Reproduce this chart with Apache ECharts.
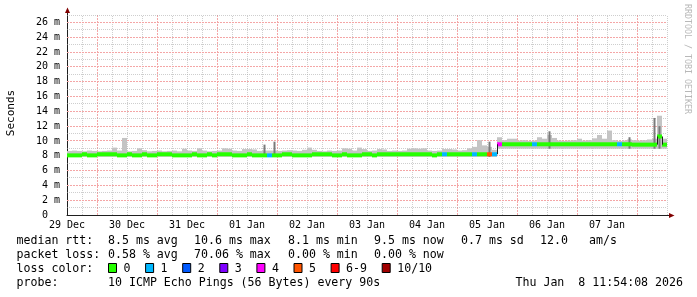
<!DOCTYPE html>
<html><head><meta charset="utf-8">
<script src="https://cdn.jsdelivr.net/npm/echarts@6/dist/echarts.min.js"></script>
<style>html,body{margin:0;padding:0;background:#fff}#c{width:697px;height:297px}</style>
</head><body><div id="c"></div>
<script>
// x axis: hours since 29 Dec 00:00; one sample every 2 hours from 29 Dec 12:00
const dayLabels = ['29 Dec','30 Dec','31 Dec','01 Jan','02 Jan','03 Jan','04 Jan','05 Jan','06 Jan','07 Jan'];
const START_H = 12, STEP_H = 2, END_H = 252;
const Y_MAX = 27;

// median rtt (ms)
const median = [
 8.05,8.05,8.05,8.2,8.05,8.05,8.2,8.2,8.2,8.2,
 8.05,8.05,8.2,8.05,8.05,8.2,8.05,8.05,8.2,8.2,
 8.2,8.05,8.05,8.05,8.05,8.2,8.05,8.05,8.2,8.05,
 8.2,8.2,8.2,8.05,8.05,8.05,8.2,8.05,8.05,8.05,
 8.05,8.05,8.05,8.2,8.2,8.05,8.05,8.05,8.05,8.2,
 8.2,8.2,8.2,8.05,8.05,8.2,8.05,8.05,8.05,8.2,
 8.2,8.05,8.2,8.2,8.2,8.2,8.2,8.2,8.2,8.2,
 8.2,8.2,8.2,8.05,8.2,8.2,8.2,8.2,8.2,8.2,
 8.2,8.2,8.2,8.2,8.2,8.2,9.55,9.55,9.55,9.55,
 9.55,9.55,9.55,9.55,9.55,9.55,9.55,9.55,9.55,9.55,
 9.55,9.55,9.55,9.55,9.55,9.55,9.55,9.55,9.55,9.55,
 9.55,9.55,9.55,9.5,9.5,9.5,9.5,9.5,10.6,9.5
];
// lost pings out of 10
const loss = [
 0,0,0,0,0,0,0,0,0,0, 0,0,0,0,0,0,0,0,0,0,
 0,0,0,0,0,0,0,0,0,0, 0,0,0,0,0,0,0,0,0,0,
 1,0,0,0,0,0,0,0,0,0, 0,0,0,0,0,0,0,0,0,0,
 0,0,0,0,0,0,0,0,0,0, 0,0,0,0,0,1,0,0,0,0,
 0,1,0,0,5,1,4,0,0,0, 0,0,0,1,0,0,0,0,0,0,
 0,0,0,0,0,0,0,0,0,0, 1,0,0,0,0,0,0,0,0,0
];
// smoke (ping spread) in ms
const smokeLo = [
 7.85,7.85,7.85,7.85,7.85,7.85,7.85,7.85,7.85,7.85, 7.85,7.85,7.85,7.85,7.85,7.85,7.85,7.85,7.85,7.85,
 7.85,7.85,7.85,7.85,7.85,7.85,7.85,7.85,7.85,7.85, 7.85,7.85,7.85,7.85,7.85,7.85,7.85,7.85,7.85,7.85,
 7.85,7.85,7.85,7.85,7.85,7.85,7.85,7.85,7.85,7.85, 7.85,7.85,7.85,7.85,7.85,7.85,7.85,7.85,7.85,7.85,
 7.85,7.85,7.85,7.85,7.85,7.85,7.85,7.85,7.85,7.85, 7.85,7.85,7.85,7.85,7.85,7.85,7.85,7.85,7.85,7.85,
 7.85,7.85,7.85,7.85,7.85,7.85,8.95,8.95,8.95,8.95, 8.95,8.95,8.95,8.95,8.95,8.95,8.95,8.95,8.95,8.95,
 8.95,8.95,8.95,8.95,8.95,8.95,8.95,8.95,8.95,8.95, 8.95,8.95,8.95,8.95,8.95,8.95,8.95,8.95,8.95,8.95
];
const smokeHi = [
 8.65,8.7,8.65,8.6,8.7,8.65,8.6,8.65,8.7,9.1,
 8.7,10.4,8.6,8.65,9.0,8.75,8.6,8.65,8.7,8.6,
 8.65,8.7,8.6,8.95,8.7,8.65,9.0,8.7,8.6,8.65,
 8.7,9.0,8.95,8.7,8.65,8.9,8.9,8.85,8.65,8.7,
 8.7,8.7,8.65,8.7,8.75,8.7,8.65,8.8,9.1,8.8,
 8.65,8.6,8.7,8.65,8.7,9.0,8.95,8.7,9.1,8.9,
 8.65,8.7,8.9,8.85,8.65,8.7,8.65,8.7,8.95,9.0,
 8.95,9.0,8.7,8.65,8.7,8.9,8.9,8.85,8.7,8.75,
 9.0,9.2,10.1,9.4,9.2,8.8,10.5,10.1,10.3,10.3,
 10.05,10.1,10.0,10.05,10.5,10.3,10.8,10.4,10.05,10.0,
 10.05,10.1,10.3,10.05,10.1,10.35,10.8,10.3,11.4,10.1,
 10.0,10.05,10.2,10.1,10.05,10.1,10.2,10.3,13.4,10.3
];
// darker, narrow smoke spikes (null = none)
const smokeDark = [
 null,null,null,null,null,null,null,null,null,null, null,null,null,null,null,null,null,null,null,null,
 null,null,null,null,null,null,null,null,null,null, null,null,null,null,null,null,null,null,null,9.5,
 null,9.9,null,null,null,null,null,null,null,null, null,null,null,null,null,null,null,null,null,null,
 null,null,null,null,null,null,null,null,null,null, null,null,null,null,null,null,null,null,null,null,
 null,null,null,null,9.9,null,null,null,null,null, null,null,null,null,null,null,11.3,null,null,null,
 null,null,null,null,null,null,null,null,null,null, null,null,10.5,null,null,null,null,13.1,12.0,null
];

const lossColors = ['#26ff00','#00b8ff','#0059ff','#7e00ff','#ff00ff','#ff5500','#ff0000','#ff0000','#ff0000','#ff0000','#a00000'];
const legendLoss = [['0',0],['1',1],['2',2],['3',3],['4',4],['5',5],['6-9',6],['10/10',10]];

const times = median.map((_, i) => START_H + i * STEP_H);

const MONO = "'DejaVu Sans Mono', monospace";
const GRID_C = 'rgba(165,165,165,0.55)';
const MGRID_C = '#f4a6a6';

// grid line definitions: [orientation (0 = vertical at x, 1 = horizontal at y), value, major?]
const gridLines = [];
for (let h = START_H + 6; h < END_H + 0.1; h += 6) gridLines.push([0, h, h % 24 === 0 ? 1 : 0]);
for (let v = 1; v <= Y_MAX; v += 1) gridLines.push([1, v, (v % 2 === 0 && v < Y_MAX) ? 1 : 0]);

const chart = echarts.init(document.getElementById('c'), null, {renderer: 'canvas'});

const graphics = [];
function txt(x, y, s, align) {
  graphics.push({type: 'text', x: x, y: y, silent: true,
    style: {text: s, font: '11.6px ' + MONO, fill: '#000', textAlign: align || 'left', textVerticalAlign: 'middle'}});
}
const ROW = [241, 255, 269, 283];
txt(16.5, ROW[0], 'median rtt:');
[['8.5 ms avg',108],['10.6 ms max',194],['8.1 ms min',288],['9.5 ms now',374],['0.7 ms sd',461],['12.0',540],['am/s',589]]
  .forEach(a => txt(a[1], ROW[0], a[0]));
txt(16.5, ROW[1], 'packet loss:');
[['0.58 % avg',108],['70.06 % max',194],['0.00 % min',288],['0.00 % now',374]]
  .forEach(a => txt(a[1], ROW[1], a[0]));
txt(16.5, ROW[2], 'loss color:');
legendLoss.forEach((a, k) => {
  const bx = 108.5 + k * 37.1 + (k === 7 ? 14 : 0);
  graphics.push({type: 'rect', silent: true, shape: {x: bx, y: 263.5, width: 8, height: 9},
    style: {fill: lossColors[a[1]], stroke: '#000', lineWidth: 1}});
  txt(bx + 15, ROW[2], a[0]);
});
txt(16.5, ROW[3], 'probe:');
txt(108, ROW[3], '10 ICMP Echo Pings (56 Bytes) every 90s');
txt(683, ROW[3], 'Thu Jan  8 11:54:08 2026', 'right');
// y title
graphics.push({type: 'text', x: 11, y: 113, rotation: Math.PI / 2, silent: true,
  style: {text: 'Seconds', font: '11px ' + MONO, fill: '#000', textAlign: 'center', textVerticalAlign: 'middle'}});
// watermark
graphics.push({type: 'text', x: 687, y: 59, rotation: -Math.PI / 2, silent: true,
  style: {text: 'RRDTOOL / TOBI OETIKER', font: '8.3px ' + MONO, fill: '#b8b8b8', textAlign: 'center', textVerticalAlign: 'middle'}});
// axis arrows
graphics.push({type: 'line', silent: true, shape: {x1: 667, y1: 215.5, x2: 670, y2: 215.5}, style: {stroke: '#1f1f1f', lineWidth: 1}});
graphics.push({type: 'polygon', silent: true, shape: {points: [[669, 213], [674.5, 215.5], [669, 218]]}, style: {fill: '#800000'}});
graphics.push({type: 'line', silent: true, shape: {x1: 67.5, y1: 15, x2: 67.5, y2: 12}, style: {stroke: '#1f1f1f', lineWidth: 1}});
graphics.push({type: 'polygon', silent: true, shape: {points: [[65, 13], [67.5, 7.5], [70, 13]]}, style: {fill: '#800000'}});

function crisp(v) { return Math.round(v - 0.5) + 0.5; }

const option = {
  animation: false,
  backgroundColor: '#fff',
  grid: {left: 67, right: 30, top: 15, bottom: 82},
  xAxis: [{
    type: 'value', min: START_H, max: END_H, interval: 6,
    axisLine: {show: true, lineStyle: {color: '#1f1f1f', width: 1}},
    axisTick: {show: false},
    splitLine: {show: false},
    axisLabel: {
      show: true, margin: 5, showMinLabel: true, showMaxLabel: true,
      fontFamily: MONO, fontSize: 10, color: '#000',
      formatter: v => {
        const k = (v - START_H) / 24;
        return (Number.isInteger(k) && k < dayLabels.length) ? dayLabels[k] : '';
      }
    }
  }],
  yAxis: [{
    type: 'value', min: 0, max: Y_MAX, interval: 2,
    axisLine: {show: true, lineStyle: {color: '#1f1f1f', width: 1}},
    axisTick: {show: false},
    splitLine: {show: false},
    axisLabel: {
      show: true, margin: 7, fontFamily: MONO, fontSize: 10, color: '#000',
      formatter: v => v === 0 ? '0  ' : (v % 2 === 0 ? v + ' m' : '')
    }
  }],
  graphic: graphics,
  series: [
    // grid lines: minor gray dotted, major pink-red
    {
      type: 'custom', z: 1, silent: true, clip: false,
      data: gridLines,
      renderItem: (params, api) => {
        const o = api.value(0), v = api.value(1), major = api.value(2);
        let x1, y1, x2, y2;
        if (o === 0) {
          const a = api.coord([v, 0]), b = api.coord([v, Y_MAX]);
          x1 = x2 = crisp(a[0]); y1 = a[1]; y2 = b[1];
        } else {
          const a = api.coord([START_H, v]), b = api.coord([END_H, v]);
          y1 = y2 = crisp(a[1]); x1 = a[0]; x2 = b[0];
        }
        return {type: 'line', shape: {x1: x1, y1: y1, x2: x2, y2: y2},
          style: major
            ? {stroke: MGRID_C, lineWidth: 1, lineDash: [2, 1], fill: null}
            : {stroke: GRID_C, lineWidth: 1, lineDash: [1, 1], fill: null}};
      }
    },
    {
      type: 'custom', z: 2, silent: true, clip: true,
      data: times.map((t, i) => [t, smokeLo[i], smokeHi[i]]),
      renderItem: (params, api) => {
        const t = api.value(0);
        const a = api.coord([t, api.value(2)]);
        const b = api.coord([t + STEP_H, api.value(1)]);
        return {type: 'rect', shape: {x: a[0], y: a[1], width: b[0] - a[0], height: b[1] - a[1]}, style: {fill: '#c4c4c4'}};
      }
    },
    {
      type: 'custom', z: 3, silent: true, clip: true,
      data: times.map((t, i) => [t, smokeLo[i], smokeDark[i]]).filter(d => d[2] !== null),
      renderItem: (params, api) => {
        const t = api.value(0);
        const a = api.coord([t + STEP_H / 2, api.value(2)]);
        const b = api.coord([t + STEP_H / 2, api.value(1)]);
        return {type: 'rect', shape: {x: a[0] - 1, y: a[1], width: 2, height: b[1] - a[1]}, style: {fill: '#7a7a7a'}};
      }
    },
    {
      type: 'custom', z: 4, silent: true, clip: true,
      data: times.map((t, i) => [t, median[i], loss[i]]),
      renderItem: (params, api) => {
        const i = params.dataIndex;
        const t = api.value(0), m = api.value(1), l = api.value(2);
        const a = api.coord([t, m]);
        const b = api.coord([t + STEP_H, m]);
        const children = [{type: 'rect', shape: {x: a[0], y: a[1] - 2, width: b[0] - a[0], height: 4}, style: {fill: lossColors[l]}}];
        if (i > 0 && Math.abs(median[i - 1] - m) > 0.5) {
          const p = api.coord([t, median[i - 1]]);
          children.push({type: 'line', shape: {x1: Math.round(a[0]) + 0.5, y1: p[1], x2: Math.round(a[0]) + 0.5, y2: a[1]}, style: {stroke: '#202020', lineWidth: 1}});
        }
        return {type: 'group', children: children};
      }
    }
  ]
};
chart.setOption(option);
</script>
</body></html>
